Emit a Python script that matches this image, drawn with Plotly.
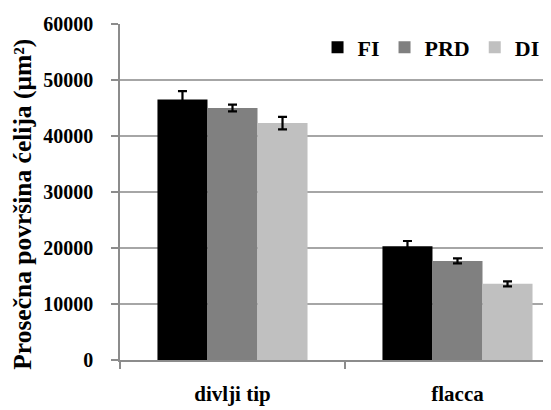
import plotly.graph_objects as go

categories = ["divlji tip", "flacca"]
series_names = ["FI", "PRD", "DI"]
fi_values = [46500, 20300]
prd_values = [45000, 17700]
di_values = [42300, 13600]
fi_err = [1500, 950]
prd_err = [600, 450]
di_err = [1100, 450]
y_ticks = [0, 10000, 20000, 30000, 40000, 50000, 60000]
y_title = "Prosečna površina ćelija (μm²)"

colors = ["#000000", "#808080", "#c0c0c0"]
font_family = "Times New Roman"

fig = go.Figure()
for name, vals, errs, col in zip(series_names, [fi_values, prd_values, di_values],
                                 [fi_err, prd_err, di_err], colors):
    fig.add_trace(go.Bar(
        x=categories, y=vals, name=name,
        marker=dict(color=col, line=dict(width=0)),
        error_y=dict(type="data", array=errs, visible=True, color="#000000",
                     thickness=2.2, width=4.5),
    ))

fig.add_annotation(
    text=y_title, textangle=-90, xref="paper", yref="paper",
    x=-0.225, y=0.462, xanchor="center", yanchor="middle", showarrow=False,
    font=dict(family=font_family, size=25.5, color="#000000", weight="bold"),
)

fig.update_layout(
    width=543, height=402,
    margin=dict(l=112, r=0, t=16, b=50, autoexpand=False),
    paper_bgcolor="white", plot_bgcolor="white",
    barmode="group", bargap=0.333, bargroupgap=0,
    font=dict(family=font_family, size=20, color="#000000"),
    showlegend=True,
    legend=dict(orientation="h", x=0.985, xanchor="right", y=0.93, yanchor="middle",
                font=dict(family=font_family, size=22, color="#000000", weight="bold"),
                bgcolor="rgba(0,0,0,0)", itemwidth=30, tracegroupgap=0),
    xaxis=dict(
        type="category", range=[-0.5, 1.4156], automargin=False,
        showline=True, linecolor="#8c8c8c", linewidth=1.5,
        ticks="outside", tickson="boundaries", ticklen=7, tickcolor="#8c8c8c", tickwidth=1.5,
        ticklabelstandoff=14,
        tickfont=dict(family=font_family, size=21, color="#000000", weight="bold"),
        showgrid=False, zeroline=False,
    ),
    yaxis=dict(
        range=[0, 60000], tickvals=y_ticks, ticktext=[str(v) for v in y_ticks],
        automargin=False,
        showline=True, linecolor="#8c8c8c", linewidth=1.5,
        ticks="outside", ticklen=7, tickcolor="#8c8c8c", tickwidth=1.5,
        ticklabelstandoff=14,
        showgrid=True, gridcolor="#a6a6a6", gridwidth=1.5, zeroline=False,
        tickfont=dict(family=font_family, size=20, color="#000000", weight="bold"),
    ),
)

fig.write_html("out.html")
